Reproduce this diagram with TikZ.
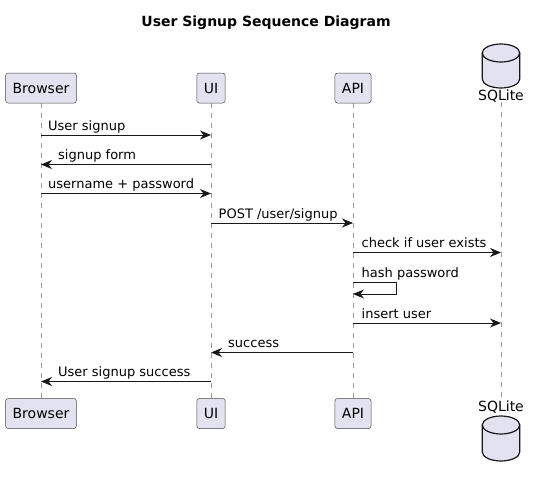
\documentclass[tikz,border=0pt]{standalone}
\usepackage{fontspec}
\setmainfont{DejaVu Sans}
\usetikzlibrary{arrows.meta,positioning}

\definecolor{partfill}{HTML}{E2E2F0}
\definecolor{partline}{HTML}{181818}

\begin{document}
\begin{tikzpicture}[
  x=1pt, y=1pt,
  >={Stealth[length=11pt,width=9pt,inset=3.5pt]},
  part/.style={draw=partline!80, fill=partfill, rounded corners=2.5pt, line width=0.5pt,
    minimum height=30pt, inner xsep=7pt, font=\fontsize{14}{16}\selectfont},
  dbname/.style={inner sep=0pt, font=\fontsize{14}{16}\selectfont},
  dbshape/.style={draw=partline, fill=partfill, line width=1.2pt},
  lifeline/.style={draw=gray!80, line width=0.5pt, dash pattern=on 5pt off 5pt},
  msg/.style={->, draw=partline, line width=0.9pt},
  msglabel/.style={anchor=base west, inner sep=0pt, font=\fontsize{13}{15}\selectfont}
]
\useasboundingbox (0,0) rectangle (536,-477);

% Title
\node[font=\bfseries\fontsize{14}{16}\selectfont] (title) at (266,-23) {User Signup Sequence Diagram};

% Participants, top
\node[part] (Browser_T) at (41,-88) {Browser};
\node[part] (UI_T) at (211,-88) {UI};
\node[part] (API_T) at (353,-88) {API};
\node[dbname] (SQLite_T) at (501,-96) {SQLite};
\draw[dbshape] (482.25,-53) -- (482.25,-79) arc[start angle=180, end angle=360, x radius=18.75, y radius=9]
  -- (519.75,-53) arc[start angle=0, end angle=180, x radius=18.75, y radius=9] -- cycle;
\draw[dbshape, fill=none] (482.25,-53) arc[start angle=180, end angle=360, x radius=18.75, y radius=9];

% Participants, bottom
\node[part] (Browser_B) at (41,-413.5) {Browser};
\node[part] (UI_B) at (211,-413.5) {UI};
\node[part] (API_B) at (353,-413.5) {API};
\node[dbname] (SQLite_B) at (501,-407) {SQLite};
\draw[dbshape] (482.25,-425) -- (482.25,-452) arc[start angle=180, end angle=360, x radius=18.75, y radius=9]
  -- (519.75,-425) arc[start angle=0, end angle=180, x radius=18.75, y radius=9] -- cycle;
\draw[dbshape, fill=none] (482.25,-425) arc[start angle=180, end angle=360, x radius=18.75, y radius=9];

% Lifelines
\draw[lifeline] (Browser_T) -- (Browser_B);
\draw[lifeline] (UI_T) -- (UI_B);
\draw[lifeline] (API_T) -- (API_B);
\draw[lifeline] (SQLite_T) -- (SQLite_B);

% Message rows
\coordinate (r1) at (0,-135);
\coordinate (r2) at (0,-164.5);
\coordinate (r3) at (0,-193.5);
\coordinate (r4) at (0,-223);
\coordinate (r5) at (0,-252.5);
\coordinate (r6) at (0,-282);
\coordinate (r6b) at (0,-294);
\coordinate (r7) at (0,-323);
\coordinate (r8) at (0,-352.5);
\coordinate (r9) at (0,-381.5);

% Messages
\draw[msg] (Browser_T |- r1) -- (UI_T |- r1);
\node[msglabel] (l1) at ([xshift=7pt, yshift=5pt]Browser_T |- r1) {User signup};

\draw[msg] (UI_T |- r2) -- (Browser_T |- r2);
\node[msglabel] (l2) at ([xshift=17pt, yshift=5pt]Browser_T |- r2) {signup form};

\draw[msg] (Browser_T |- r3) -- (UI_T |- r3);
\node[msglabel] (l3) at ([xshift=7pt, yshift=5pt]Browser_T |- r3) {username + password};

\draw[msg] (UI_T |- r4) -- (API_T |- r4);
\node[msglabel] (l4) at ([xshift=7.5pt, yshift=5pt]UI_T |- r4) {POST /user/signup};

\draw[msg] (API_T |- r5) -- (SQLite_T |- r5);
\node[msglabel] (l5) at ([xshift=8.5pt, yshift=5pt]API_T |- r5) {check if user exists};

\draw[msg] (API_T |- r6) -| ([xshift=43pt]API_T |- r6b) -- (API_T |- r6b);
\node[msglabel] (l6) at ([xshift=8.5pt, yshift=5pt]API_T |- r6) {hash password};

\draw[msg] (API_T |- r7) -- (SQLite_T |- r7);
\node[msglabel] (l7) at ([xshift=8.5pt, yshift=5pt]API_T |- r7) {insert user};

\draw[msg] (API_T |- r8) -- (UI_T |- r8);
\node[msglabel] (l8) at ([xshift=17pt, yshift=5pt]UI_T |- r8) {success};

\draw[msg] (UI_T |- r9) -- (Browser_T |- r9);
\node[msglabel] (l9) at ([xshift=17pt, yshift=5pt]Browser_T |- r9) {User signup success};

\end{tikzpicture}
\end{document}
